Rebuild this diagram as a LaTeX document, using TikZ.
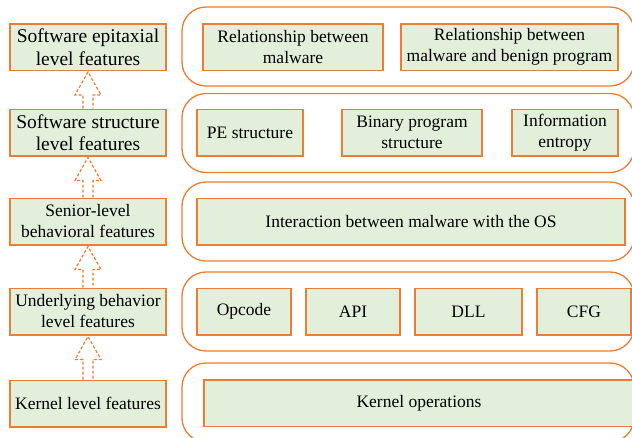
\documentclass[tikz,border=0pt]{standalone}
\usepackage{fontspec}
\setmainfont{Liberation Serif}
\usetikzlibrary{calc}
\definecolor{org}{HTML}{ED7D31}
\definecolor{lgreen}{HTML}{E2EFDA}
\tikzset{
  fbox/.style={draw=org, fill=lgreen, line width=1.5pt, align=center, inner sep=0pt,
    font=\fontsize{17.5}{21}\selectfont, minimum height=46.5pt},
  bigtext/.style={font=\fontsize{19.5}{22.5}\selectfont},
  grp/.style={draw=org, line width=1.3pt, rounded corners=24pt, minimum width=452pt, minimum height=79pt, inner sep=0pt},
  barrow/.style={draw=org, line width=1.2pt, dash pattern=on 3pt off 2pt, line join=miter},
}
\newcommand{\blockarrow}[2]{%
  \draw[barrow] ($(#1.north)+(-5,0)$) -- ($(#2.south)+(-5,24)$) -- ($(#2.south)+(-13,24)$) -- ($(#2.south)+(0,1)$) -- ($(#2.south)+(13,24)$) -- ($(#2.south)+(5,24)$) -- ($(#1.north)+(5,0)$);}
\begin{document}
\begin{tikzpicture}[x=1pt,y=-1pt]
\useasboundingbox (0,0) rectangle (632,437);
\clip (0,0) rectangle (632,437);
% left column
\node[fbox, bigtext, minimum width=156pt] (L1) at (88,47) {Software epitaxial\\level features};
\node[fbox, bigtext, minimum width=156pt] (L2) at (88,132.5) {Software structure\\level features};
\node[fbox, minimum width=156pt] (L3) at (88,221.5) {Senior-level\\behavioral features};
\node[fbox, minimum width=156pt] (L4) at (88,311.5) {Underlying behavior\\level features};
\node[fbox, minimum width=156pt] (L5) at (88,403.5) {Kernel level features};
\blockarrow{L2}{L1}
\blockarrow{L3}{L2}
\blockarrow{L4}{L3}
\blockarrow{L5}{L4}
% right groups
\node[grp] (G1) at (408,46.5) {};
\node[grp] (G2) at (408,133) {};
\node[grp] (G3) at (408,221.5) {};
\node[grp] (G4) at (408,311.5) {};
\node[grp] (G5) at (408,402.5) {};
% inner boxes
\node[fbox, minimum width=180pt] (a1) at (293,47) {Relationship between\\malware};
\node[fbox, minimum width=217pt] (a2) at (509.5,47) {Relationship between\\malware and benign program};
\node[fbox, minimum width=106pt] (b1) at (250,132.5) {PE structure};
\node[fbox, minimum width=140pt] (b2) at (412,132.5) {Binary program\\structure};
\node[fbox, minimum width=106pt] (b3) at (565,132.5) {Information\\entropy};
\node[fbox, minimum width=428pt] (c1) at (411,221.5) {Interaction between malware with the OS};
\node[fbox, minimum width=94pt] (d1) at (244,311.5) {Opcode};
\node[fbox, minimum width=94pt] (d2) at (353,311.5) {API};
\node[fbox, minimum width=107pt] (d3) at (468.5,311.5) {DLL};
\node[fbox, minimum width=94pt] (d4) at (584,311.5) {CFG};
\node[fbox, minimum width=430pt] (e1) at (419,403) {Kernel operations};
\end{tikzpicture}
\end{document}
